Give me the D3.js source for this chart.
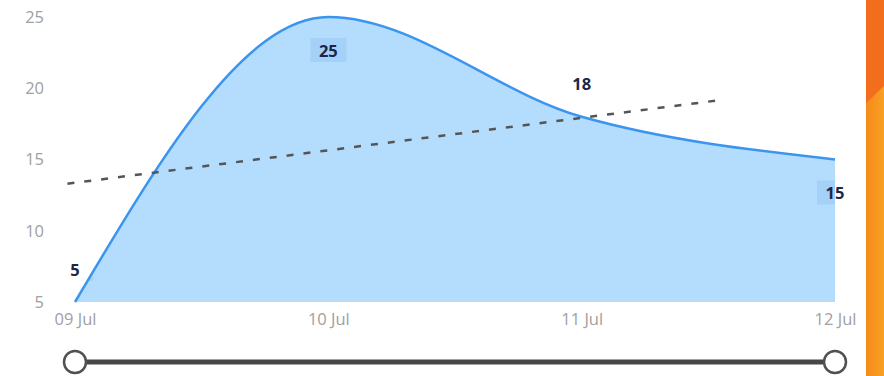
<!DOCTYPE html>
<html lang="en">
<head>
<meta charset="UTF-8">
<title>Area with trend</title>
<script src="https://cdn.jsdelivr.net/npm/d3@7"></script>
<style>
    html, body { margin: 0; padding: 0; background: #fff; }
    .axis text { font-family: "Open Sans", "Noto Sans", sans-serif; font-size: 16.5px; fill: #a0a0a0; }
    .axis path, .axis line { display: none; }
    text.lbl { font-family: "Open Sans", "Noto Sans", sans-serif; font-size: 16.5px; font-weight: 700; fill: #1b2748; }
</style>
</head>
<body>
<div id="chart"></div>
<script>
    // data
    var days = ["09 Jul", "10 Jul", "11 Jul", "12 Jul"];
    var values = [5, 25, 18, 15];
    var yTicks = [5, 10, 15, 20, 25];
    // dashed trend line ends (x in day index units, y in value units)
    var trendX = [-0.03, 2.56];
    var trendY = [13.3, 19.2];

    var width = 884, height = 376;

    var svg = d3.select("#chart").append("svg")
        .attr("width", width)
        .attr("height", height);

    var x = d3.scaleLinear().domain([0, days.length - 1]).range([75, 835]);
    var y = d3.scaleLinear().domain([5, 25]).range([302, 17]);

    var pts = values.map(function (v, i) { return [i, v]; });

    // axes
    svg.append("g")
        .attr("class", "axis")
        .attr("transform", "translate(0," + y.range()[0] + ")")
        .call(d3.axisBottom(x).tickValues(d3.range(days.length))
            .tickFormat(function (i) { return days[i]; }).tickSize(0).tickPadding(11));

    svg.append("g")
        .attr("class", "axis")
        .attr("transform", "translate(44,0)")
        .call(d3.axisLeft(y).tickValues(yTicks).tickSize(0).tickPadding(0));

    var area = d3.area()
        .x(function (d) { return x(d[0]); })
        .y0(y.range()[0])
        .y1(function (d) { return y(d[1]); })
        .curve(d3.curveMonotoneX);

    var line = d3.line()
        .x(function (d) { return x(d[0]); })
        .y(function (d) { return y(d[1]); })
        .curve(d3.curveMonotoneX);

    svg.append("clipPath").attr("id", "areaClip")
        .append("path").attr("d", area(pts));

    svg.append("path")
        .attr("d", area(pts))
        .attr("fill", "#b4dcfd");

    // label boxes only show where they sit over the fill
    var below = [false, true, false, true];
    var boxes = svg.append("g").attr("clip-path", "url(#areaClip)");
    boxes.selectAll("rect")
        .data(pts)
        .enter().append("rect")
        .attr("x", function (d) { return x(d[0]) - 18; })
        .attr("y", function (d, i) { return y(d[1]) + (below[i] ? 33 : -33) - 12; })
        .attr("width", 36)
        .attr("height", 24)
        .attr("fill", "rgba(70,130,210,0.13)");

    svg.append("path")
        .attr("d", line(pts))
        .attr("fill", "none")
        .attr("stroke", "#3b95ee")
        .attr("stroke-width", 2.5);

    svg.append("line")
        .attr("x1", x(trendX[0])).attr("y1", y(trendY[0]))
        .attr("x2", x(trendX[1])).attr("y2", y(trendY[1]))
        .attr("stroke", "#555")
        .attr("stroke-width", 2.5)
        .attr("stroke-dasharray", "7,10");

    svg.append("g").selectAll("text")
        .data(pts)
        .enter().append("text")
        .attr("class", "lbl")
        .attr("x", function (d) { return x(d[0]); })
        .attr("y", function (d, i) { return y(d[1]) + (below[i] ? 33 : -33); })
        .attr("text-anchor", "middle")
        .attr("dominant-baseline", "central")
        .text(function (d) { return d[1]; });

    // range slider under the chart
    var sy = 362;
    svg.append("line")
        .attr("x1", x(0)).attr("x2", x(days.length - 1))
        .attr("y1", sy).attr("y2", sy)
        .attr("stroke", "#474747")
        .attr("stroke-width", 5);

    svg.selectAll("circle.handle")
        .data([0, days.length - 1])
        .enter().append("circle")
        .attr("class", "handle")
        .attr("cx", function (d) { return x(d); })
        .attr("cy", sy)
        .attr("r", 11)
        .attr("fill", "#fff")
        .attr("stroke", "#505050")
        .attr("stroke-width", 2.5);

    // orange strip on the right edge
    var grad = svg.append("defs").append("linearGradient")
        .attr("id", "orange").attr("x1", 0).attr("x2", 1).attr("y1", 0).attr("y2", 0);
    grad.append("stop").attr("offset", 0).attr("stop-color", "#f58a1a");
    grad.append("stop").attr("offset", 1).attr("stop-color", "#f9a024");
    svg.append("rect")
        .attr("x", 866).attr("y", 0).attr("width", 18).attr("height", height)
        .attr("fill", "url(#orange)");
    svg.append("path")
        .attr("d", "M866,0H884V86L866,103Z")
        .attr("fill", "#f26d1c");
</script>
</body>
</html>
